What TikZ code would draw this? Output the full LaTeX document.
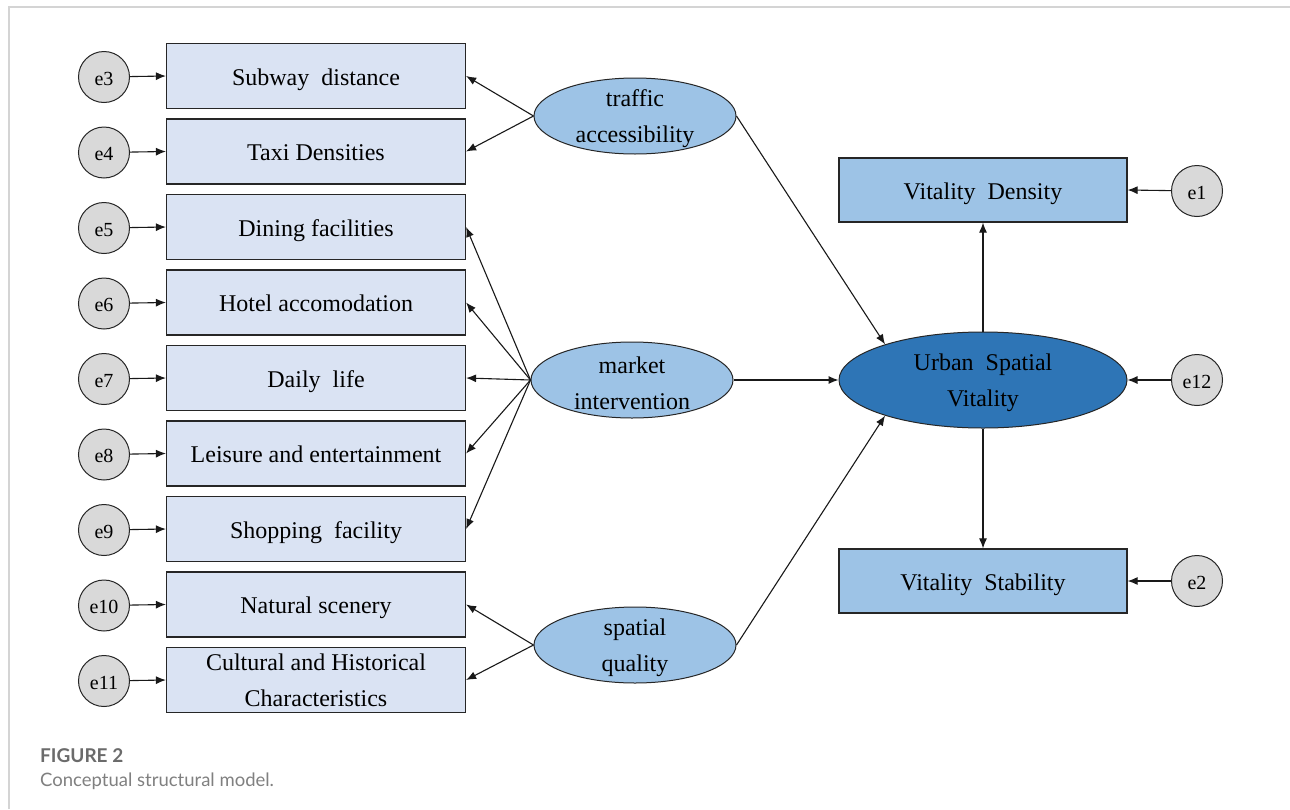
\documentclass[tikz,border=0pt]{standalone}
\usepackage{fontspec}
\setmainfont{Liberation Serif}
\newfontfamily\capfont{Lato}
\usetikzlibrary{shapes.geometric,arrows.meta}
\definecolor{lbox}{HTML}{DAE3F3}
\definecolor{rbox}{HTML}{9DC3E6}
\definecolor{usvc}{HTML}{2E75B6}
\definecolor{errc}{HTML}{D9D9D9}
\definecolor{framec}{HTML}{D4D4D4}
\definecolor{capc}{HTML}{6B6B6B}
\definecolor{capd}{HTML}{808080}
\begin{document}
\begin{tikzpicture}[x=1pt,y=-1pt,
  mainfont/.style={font=\fontsize{24}{36}\selectfont},
  oneline/.style={text height=20pt,text depth=2pt},
  twolab/.style={mainfont,align=center,yshift=-3pt},
  obsl/.style={draw=black!85,line width=1.2pt,fill=lbox,minimum width=299pt,minimum height=65pt,inner sep=0pt,align=center,mainfont},
  obsr/.style={draw=black!85,line width=1.2pt,fill=rbox,minimum width=288pt,minimum height=64pt,inner sep=0pt,align=center,mainfont,oneline},
  errnode/.style={circle,draw=black!85,line width=1pt,fill=errc,minimum size=51pt,inner sep=0pt,font=\fontsize{20}{24}\selectfont,text height=16pt,text depth=0pt},
  latent/.style={ellipse,draw=black!85,line width=1pt,fill=rbox,minimum width=202pt,minimum height=76pt,inner sep=0pt},
  arr/.style={-{Latex[length=10pt,width=8pt]},line width=1.1pt,black!90},
  capfig/.style={anchor=base west,inner sep=0pt,text=capc,font=\capfont\bfseries\fontsize{19}{22}\selectfont},
  captext/.style={anchor=base west,inner sep=0pt,text=capd,font=\capfont\fontsize{18.5}{22}\selectfont}
]
\useasboundingbox (0,0) rectangle (1290,809);
\fill[white] (0,0) rectangle (1290,809);
\draw[framec,line width=1.5pt] (9,809) -- (9,7) -- (1290,7);

% left observed boxes
\node[obsl,oneline] (b1) at (316,76) {Subway\ \ distance};
\node[obsl,oneline] (b2) at (316,151.5) {Taxi Densities};
\node[obsl,oneline] (b3) at (316,227) {Dining facilities};
\node[obsl,oneline] (b4) at (316,302.5) {Hotel accomodation};
\node[obsl,oneline] (b5) at (316,378) {Daily\ \ life};
\node[obsl,oneline] (b6) at (316,453.5) {Leisure and entertainment};
\node[obsl,oneline] (b7) at (316,529) {Shopping\ \ facility};
\node[obsl,oneline] (b8) at (316,604.5) {Natural scenery};
\node[obsl] (b9) at (316,680) {Cultural and Historical\\Characteristics};

% left error circles
\node[errnode] (e3) at (104,77) {e3};
\node[errnode] (e4) at (104,152.5) {e4};
\node[errnode] (e5) at (104,228) {e5};
\node[errnode] (e6) at (104,303.5) {e6};
\node[errnode] (e7) at (104,379) {e7};
\node[errnode] (e8) at (104,454.5) {e8};
\node[errnode] (e9) at (104,530) {e9};
\node[errnode] (e10) at (104,605.5) {e10};
\node[errnode] (e11) at (104,681) {e11};

\foreach \e/\b in {e3/b1,e4/b2,e5/b3,e6/b4,e7/b5,e8/b6,e9/b7,e10/b8,e11/b9}
  \draw[arr] (\e) -- (\b.west);

% latent variables
\node[latent,label={[twolab]center:traffic\\accessibility}] (ta) at (635,116) {};
\node[latent,label={[twolab]center:market\\intervention}] (mi) at (632,380) {};
\node[latent,label={[twolab]center:spatial\\quality}] (sq) at (635,645) {};

\node[ellipse,draw=black!85,line width=1pt,fill=usvc,minimum width=288pt,minimum height=96pt,inner sep=0pt,
  label={[twolab]center:Urban\ \ Spatial\\Vitality}] (usv) at (983,380) {};

% right boxes
\node[obsr] (vd) at (983,190) {Vitality\ \ Density};
\node[obsr] (vs) at (983,581) {Vitality\ \ Stability};

\node[errnode] (e1) at (1197,191) {e1};
\node[errnode] (e12) at (1197,380) {e12};
\node[errnode] (e2) at (1197,581) {e2};

% loadings
\draw[arr] (ta.west) -- (b1.east);
\draw[arr] (ta.west) -- (b2.east);
\foreach \b in {b3,b4,b5,b6,b7}
  \draw[arr] (mi.west) -- (\b.east);
\draw[arr] (sq.west) -- (b8.east);
\draw[arr] (sq.west) -- (b9.east);

% structural paths
\draw[arr] (ta.east) -- (usv.160);
\draw[arr] (mi.east) -- (usv.west);
\draw[arr] (sq.east) -- (usv.200);
\draw[arr] (usv.north) -- (vd.south);
\draw[arr] (usv.south) -- (vs.north);
\draw[arr] (e1) -- (vd.east);
\draw[arr] (e12) -- (usv.east);
\draw[arr] (e2) -- (vs.east);

% caption
\node[capfig] (capa) at (40,762) {FIGURE 2};
\node[captext] (capb) at (40,786) {Conceptual structural model.};
\end{tikzpicture}
\end{document}
